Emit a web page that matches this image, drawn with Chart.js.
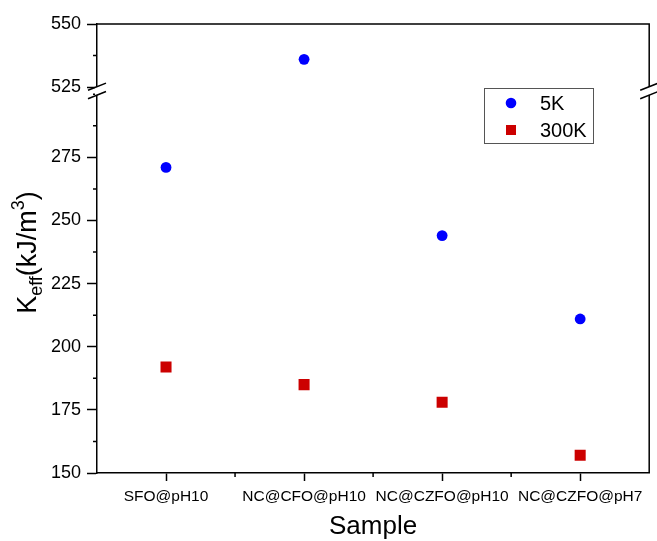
<!DOCTYPE html>
<html>
<head>
<meta charset="utf-8">
<script src="https://cdn.jsdelivr.net/npm/chart.js@4.4.0/dist/chart.umd.min.js"></script>
<style>
  html, body { margin: 0; padding: 0; background: #fff; }
  canvas { display: block; }
</style>
</head>
<body>
<canvas id="c" width="657" height="541"></canvas>
<script>
// Sample names and effective anisotropy constants (kJ/m^3)
const samples = ['SFO@pH10', 'NC@CFO@pH10', 'NC@CZFO@pH10', 'NC@CZFO@pH7'];
const k5K = [271, 536, 244, 211];
const k300K = [192, 185, 178, 157];

// Broken y axis: lower and upper segments
const lowRange = [150, 301.3];
const highRange = [523.5, 550];
const lowTicks = [150, 175, 200, 225, 250, 275];
const highTicks = [525, 550];
const minorStep = 12.5;

const FONT = "'Liberation Sans', Arial, Helvetica, sans-serif";
const BLUE = '#0000ff';
const RED = '#cc0000';

// values above the break go on the upper segment
const onSegment = (arr, upper) => arr.map(v => ((v > lowRange[1]) === upper ? v : null));

const pointCommon = { showLine: false, pointBorderWidth: 0, pointHoverRadius: 0 };

const axisStyle = {
  grid: { display: true, drawOnChartArea: false, drawTicks: true, tickLength: 10, tickWidth: 1.5, tickColor: '#000' },
  border: { display: true, color: '#000', width: 1.5 },
  ticks: { color: '#000', font: { family: FONT, size: 18 }, padding: 6 }
};

// minor ticks, frame, axis break marks, y title and legend
const decorations = {
  id: 'decorations',
  afterDraw(chart) {
    const { ctx, chartArea: a, scales } = chart;
    const yLow = scales.yLow, yHigh = scales.yHigh, x = scales.x;
    ctx.save();
    ctx.strokeStyle = '#000';
    ctx.lineWidth = 1.5;

    // top and right frame
    ctx.beginPath();
    ctx.moveTo(a.left, a.top);
    ctx.lineTo(a.right, a.top);
    ctx.lineTo(a.right, a.bottom);
    ctx.stroke();

    // minor y ticks
    ctx.beginPath();
    [[yLow, lowRange, lowTicks], [yHigh, highRange, highTicks]].forEach(([s, r, major]) => {
      const start = Math.ceil(r[0] / minorStep) * minorStep;
      for (let v = start; v <= r[1] + 1e-9; v += minorStep) {
        if (major.includes(v)) continue;
        const py = s.getPixelForValue(v);
        ctx.moveTo(a.left - 4, py);
        ctx.lineTo(a.left, py);
      }
    });
    // minor x ticks between categories
    for (let i = 0; i < samples.length - 1; i++) {
      const px = (x.getPixelForValue(i) + x.getPixelForValue(i + 1)) / 2;
      ctx.moveTo(px, a.bottom);
      ctx.lineTo(px, a.bottom + 4);
    }
    ctx.stroke();

    // axis break on left and right edges
    const yb = yLow.top;
    [a.left, a.right].forEach(px => {
      ctx.fillStyle = '#fff';
      ctx.fillRect(px - 2, yb - 4, 4, 8);
      ctx.beginPath();
      [-4.2, 4.2].forEach(off => {
        ctx.moveTo(px - 9, yb + off + 3.6);
        ctx.lineTo(px + 9, yb + off - 3.6);
      });
      ctx.stroke();
    });

    // y axis title with subscript and superscript
    const parts = [
      { t: 'K', size: 27, dy: 0 },
      { t: 'eff', size: 18, dy: 6 },
      { t: '(kJ/m', size: 27, dy: 0 },
      { t: '3', size: 18, dy: -12 },
      { t: ')', size: 27, dy: 0 }
    ];
    let total = 0;
    parts.forEach(p => { ctx.font = p.size + 'px ' + FONT; p.w = ctx.measureText(p.t).width; total += p.w; });
    ctx.translate(36, (a.top + a.bottom) / 2 + 4);
    ctx.rotate(-Math.PI / 2);
    ctx.fillStyle = '#000';
    ctx.textBaseline = 'alphabetic';
    ctx.textAlign = 'left';
    let cx = -total / 2;
    parts.forEach(p => { ctx.font = p.size + 'px ' + FONT; ctx.fillText(p.t, cx, p.dy); cx += p.w; });
    ctx.setTransform(1, 0, 0, 1, 0, 0);

    // legend
    const lx = a.left + 387, ly = a.top + 64, lw = 109, lh = 55;
    ctx.lineWidth = 1;
    ctx.strokeStyle = '#555';
    ctx.strokeRect(lx + 0.5, ly + 0.5, lw, lh);
    const seen = new Set();
    let row = 0;
    chart.data.datasets.forEach(ds => {
      if (seen.has(ds.label)) return;
      seen.add(ds.label);
      const my = ly + 15 + row * 27, mx = lx + 27;
      ctx.fillStyle = ds.backgroundColor;
      ctx.beginPath();
      if (ds.pointStyle === 'rect') {
        ctx.rect(mx - 5, my - 5, 10, 10);
      } else {
        ctx.arc(mx, my, 5.3, 0, Math.PI * 2);
      }
      ctx.fill();
      ctx.fillStyle = '#000';
      ctx.font = '20px ' + FONT;
      ctx.textBaseline = 'middle';
      ctx.fillText(ds.label, lx + 56, my + 1);
      row++;
    });
    ctx.restore();
  }
};

new Chart(document.getElementById('c'), {
  type: 'line',
  data: {
    labels: samples,
    datasets: [
      Object.assign({ label: '5K', data: onSegment(k5K, false), yAxisID: 'yLow', pointStyle: 'circle', pointRadius: 5.4, backgroundColor: BLUE, borderColor: BLUE }, pointCommon),
      Object.assign({ label: '5K', data: onSegment(k5K, true), yAxisID: 'yHigh', pointStyle: 'circle', pointRadius: 5.4, backgroundColor: BLUE, borderColor: BLUE }, pointCommon),
      Object.assign({ label: '300K', data: k300K, yAxisID: 'yLow', pointStyle: 'rect', pointRadius: 7.8, backgroundColor: RED, borderColor: RED }, pointCommon)
    ]
  },
  options: {
    responsive: false,
    animation: false,
    events: [],
    layout: { padding: { top: 24, right: 4, left: 0, bottom: 0 } },
    plugins: { legend: { display: false }, tooltip: { enabled: false } },
    scales: {
      x: {
        type: 'category',
        offset: true,
        grid: { display: true, drawOnChartArea: false, drawTicks: true, tickLength: 8, tickWidth: 1.5, tickColor: '#000', offset: false },
        border: { display: true, color: '#000', width: 1.5 },
        ticks: { color: '#000', font: { family: FONT, size: 15.5 }, padding: 6, maxRotation: 0, autoSkip: false },
        title: { display: true, text: 'Sample', color: '#000', font: { family: FONT, size: 26 }, padding: { top: 6, bottom: -1 } },
        afterFit(s) { s.height = 68; }
      },
      yLow: Object.assign({
        type: 'linear', position: 'left', stack: 'k', weight: 1,
        stackWeight: lowRange[1] - lowRange[0],
        min: lowRange[0], max: lowRange[1],
        afterBuildTicks(s) { s.ticks = lowTicks.map(v => ({ value: v })); },
        afterFit(s) { s.width = 97; }
      }, JSON.parse(JSON.stringify(axisStyle))),
      yHigh: Object.assign({
        type: 'linear', position: 'left', stack: 'k', weight: 2,
        stackWeight: highRange[1] - highRange[0],
        min: highRange[0], max: highRange[1],
        afterBuildTicks(s) { s.ticks = highTicks.map(v => ({ value: v })); },
        afterFit(s) { s.width = 97; }
      }, JSON.parse(JSON.stringify(axisStyle)))
    }
  },
  plugins: [decorations]
});
</script>
</body>
</html>
